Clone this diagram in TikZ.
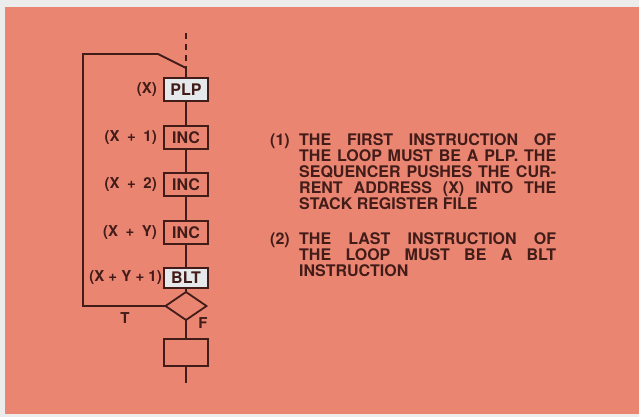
\documentclass[tikz,border=0pt]{standalone}
\usepackage{fontspec}
\setmainfont{TeX Gyre Heros}
\usepackage{tikz}
\usetikzlibrary{shapes.geometric, positioning}
\definecolor{mysalmon}{RGB}{234,133,114}
\definecolor{mypaper}{RGB}{236,236,236}
\definecolor{myink}{RGB}{66,28,24}
\definecolor{mylight}{RGB}{230,233,236}
\tikzset{
  instr/.style={rectangle, draw=myink, text=myink, minimum width=44pt,
    minimum height=23pt, inner sep=0pt, outer sep=0pt,
    font=\fontsize{16}{16}\selectfont\bfseries, line width=1.8pt},
  litinstr/.style={instr, fill=mylight},
  decision/.style={diamond, draw=myink, minimum width=41pt,
    minimum height=28pt, inner sep=0pt, outer sep=0pt, line width=1.8pt},
  addr/.style={inner sep=0pt, text=myink, font=\fontsize{15}{15}\selectfont\bfseries},
  notenum/.style={inner sep=0pt, text=myink, font=\fontsize{16}{16}\selectfont\bfseries},
  note/.style={notenum, text width=257pt, align=justify},
  line/.style={line width=1.8pt, color=myink}
}
\begin{document}
\begin{tikzpicture}[x=1pt, y=-1pt]
  % paper and card
  \fill[mypaper] (0,0) rectangle (639,417);
  \fill[mysalmon] (5,7) rectangle (639,414);
  \useasboundingbox (0,0) rectangle (639,417);
  % flow chart
  \node[litinstr] (plp) at (186,89.5) {PLP};
  \node[instr, below=25pt of plp] (inca) {INC};
  \node[instr, below=24pt of inca] (incb) {INC};
  \node[instr, below=25pt of incb] (incy) {INC};
  \node[litinstr, minimum height=20pt, below=24pt of incy] (blt) {BLT};
  \node[decision, below=4pt of blt] (test) {};
  \node[instr, minimum height=27pt, below=19pt of test] (exit) {};
  \coordinate (top) at (186,33);
  \coordinate (join) at (186,68);
  \coordinate (bot) at (186,383);
  % addresses
  \node[addr, left=7pt of plp] (aplp) {(X)};
  \node[addr, left=7pt of inca] (ainca) {(X\enspace+\enspace1)};
  \node[addr, left=7pt of incb] (aincb) {(X\enspace+\enspace2)};
  \node[addr, left=7pt of incy] (aincy) {(X\enspace+\enspace Y)};
  \node[addr, left=2pt of blt] (ablt) {(X + Y + 1)};
  % connectors
  \draw[line, dash pattern=on 6pt off 5pt] (top) -- (join);
  \draw[line] (join) -- (plp);
  \draw[line] (plp) -- (inca);
  \draw[line] (inca) -- (incb);
  \draw[line] (incb) -- (incy);
  \draw[line] (incy) -- (blt);
  \draw[line] (blt) -- (test);
  \draw[line] (test) -- (exit);
  \draw[line] (exit) -- (bot);
  % loop back
  \draw[line] (test.west) -- (83,306) -- (83,54) -- (158,54) -- (join);
  \node[addr] (ttrue) at (125,318) {T};
  \node[addr] (tfalse) at (203,323) {F};
  % notes
  \node[notenum, anchor=base west] (numone) at (270,145) {(1)};
  \node[note, anchor=base west] (noteone) at (299,145)
    {THE FIRST INSTRUCTION OF\linebreak THE LOOP MUST BE A PLP. THE\linebreak
     SEQUENCER PUSHES THE CUR-\linebreak RENT ADDRESS (X) INTO THE\linebreak
     STACK REGISTER FILE};
  \node[notenum, anchor=base west] (numtwo) at (270,244) {(2)};
  \node[note, anchor=base west] (notetwo) at (299,244)
    {THE LAST INSTRUCTION OF\linebreak THE LOOP MUST BE A BLT\linebreak
     INSTRUCTION};
\end{tikzpicture}
\end{document}
